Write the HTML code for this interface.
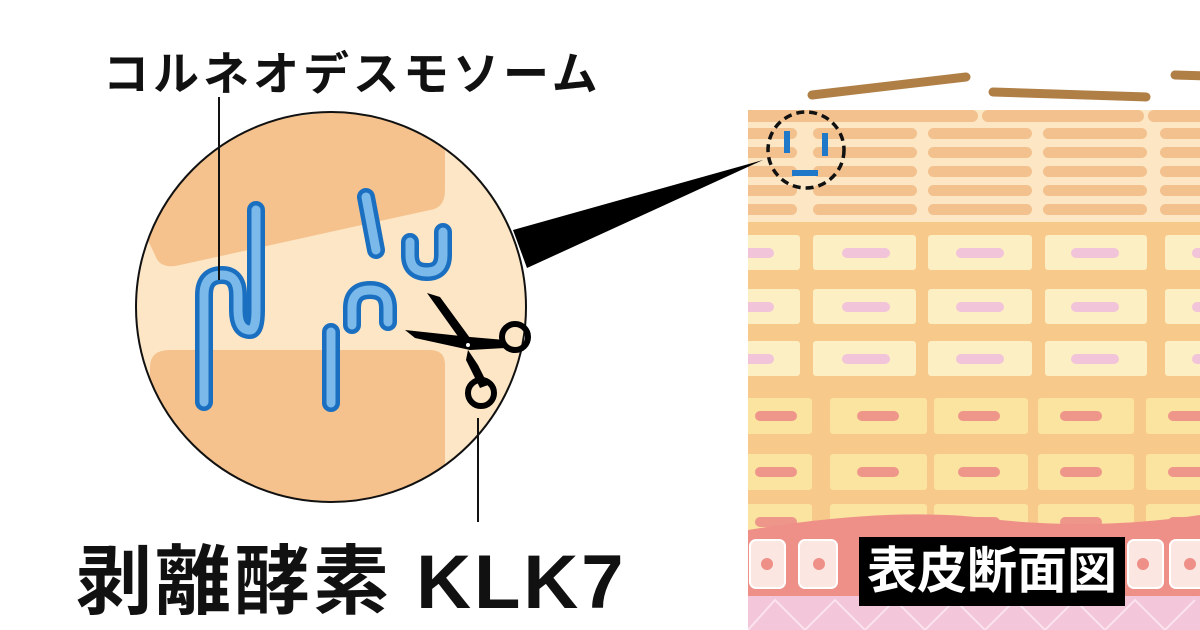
<!DOCTYPE html>
<html><head><meta charset="utf-8"><style>
html,body{margin:0;padding:0;background:#fff;}
body{width:1200px;height:630px;overflow:hidden;position:relative;font-family:"Liberation Sans","Noto Sans CJK JP",sans-serif;}
.t1{position:absolute;left:103px;top:38px;font-size:46px;font-weight:bold;color:#111;letter-spacing:4px;white-space:nowrap;}
.t2{position:absolute;left:76px;top:520px;font-size:76px;font-weight:bold;color:#111;white-space:nowrap;letter-spacing:3px;}
.lab{position:absolute;left:859px;top:537px;width:266px;height:69px;background:#000;color:#fff;font-size:50px;font-weight:bold;line-height:69px;text-align:center;white-space:nowrap;}
</style></head><body>
<svg width="1200" height="630" style="position:absolute;left:0;top:0">
<defs>
<clipPath id="cc"><circle cx="331" cy="307" r="195"/></clipPath>
<clipPath id="ep"><rect x="748" y="0" width="452" height="630"/></clipPath>
</defs>
<g clip-path="url(#ep)">
<rect x="748" y="110" width="452" height="520" fill="#fce6c4"/>
<g fill="#f3c18e">
<rect x="740" y="110" width="238" height="12" rx="6"/><rect x="982" y="110" width="162" height="12" rx="6"/><rect x="1148" y="110" width="60" height="12" rx="6"/>
</g>
<g fill="#f3c18e" id="bars">
<rect x="740" y="128" width="57" height="11" rx="5.5"/><rect x="813" y="128" width="104" height="11" rx="5.5"/><rect x="928" y="128" width="104" height="11" rx="5.5"/><rect x="1043" y="128" width="104" height="11" rx="5.5"/><rect x="1160" y="128" width="50" height="11" rx="5.5"/>
</g>
<use href="#bars" y="19"/><use href="#bars" y="38"/><use href="#bars" y="57"/><use href="#bars" y="76"/>
<rect x="748" y="222" width="452" height="318" fill="#f7c98a"/>
<g id="r1"><g fill="#fdefc4">
<rect x="740" y="235" width="60" height="35" rx="3"/><rect x="813" y="235" width="103" height="35" rx="3"/><rect x="928" y="235" width="104" height="35" rx="3"/><rect x="1045" y="235" width="102" height="35" rx="3"/><rect x="1165" y="235" width="45" height="35" rx="3"/></g>
<g fill="#f1c4d9"><rect x="740" y="248" width="34" height="10" rx="5"/><rect x="842" y="248" width="48" height="10" rx="5"/><rect x="956" y="248" width="48" height="10" rx="5"/><rect x="1071" y="248" width="48" height="10" rx="5"/><rect x="1192" y="248" width="20" height="10" rx="5"/></g></g>
<use href="#r1" y="54"/><use href="#r1" y="106"/>
<g id="r2"><g fill="#fbe3a0">
<rect x="740" y="398" width="72" height="36" rx="3"/><rect x="830" y="398" width="97" height="36" rx="3"/><rect x="934" y="398" width="94" height="36" rx="3"/><rect x="1038" y="398" width="96" height="36" rx="3"/><rect x="1146" y="398" width="64" height="36" rx="3"/></g>
<g fill="#ee968a"><rect x="755" y="411" width="42" height="10" rx="5"/><rect x="857" y="411" width="42" height="10" rx="5"/><rect x="958" y="411" width="42" height="10" rx="5"/><rect x="1060" y="411" width="42" height="10" rx="5"/><rect x="1168" y="411" width="42" height="10" rx="5"/></g></g>
<use href="#r2" y="56"/><use href="#r2" y="106"/>
<path d="M748 530 Q900 505 1000 520 Q1100 530 1200 515 L1200 630 L748 630 Z" fill="#ee9088"/>
<g fill="#fbe6e2" stroke="#fff" stroke-width="2">
<rect x="750" y="540" width="35" height="48" rx="6"/><rect x="799" y="540" width="38" height="48" rx="6"/><rect x="1128" y="540" width="35" height="48" rx="6"/><rect x="1170" y="540" width="40" height="48" rx="6"/>
</g>
<g fill="#ee9088"><circle cx="767" cy="564" r="6"/><circle cx="819" cy="564" r="6"/><circle cx="1143" cy="564" r="6"/><circle cx="1190" cy="564" r="6"/></g>
<rect x="748" y="596" width="452" height="34" fill="#f3c6da"/>
<path d="M748 630 L775 600 L805 630 L835 600 L865 630 L895 600 L925 630 L955 600 L985 630 L1015 600 L1045 630 L1075 600 L1105 630 L1135 600 L1165 630 L1195 600" stroke="#fbe3ee" stroke-width="2" fill="none"/>
</g>
<g stroke="#b07f45" stroke-width="9" stroke-linecap="round">
<line x1="812" y1="95" x2="966" y2="77"/><line x1="993" y1="92" x2="1146" y2="97"/><line x1="1175" y1="75" x2="1210" y2="76"/>
</g>
<circle cx="806" cy="150" r="38" fill="none" stroke="#111" stroke-width="3.5" stroke-dasharray="8 5"/>
<g fill="#1f78c8"><rect x="784" y="131" width="6" height="22"/><rect x="822" y="133" width="6" height="23"/><rect x="792" y="170" width="26" height="6"/></g>
<polygon points="513,230 527,268 763,160" fill="#000"/>
<circle cx="331" cy="307" r="195" fill="#fde6c5"/>
<g clip-path="url(#cc)" fill="#f5c28d">
<path d="M100 140 L430 100 Q445 100 445 115 L445 190 Q445 208 430 210 L180 265 Q160 270 155 255 Z"/>
<path d="M150 367 Q150 350 170 350 L430 350 Q445 350 445 365 L445 520 L150 520 Z"/>
</g>
<circle cx="331" cy="307" r="195" fill="none" stroke="#111" stroke-width="2"/>
<g fill="none" stroke-linecap="round">
<g stroke="#1a6fc0" stroke-width="18">
<path d="M204 402 V295 Q204 275 222 275 Q238 275 238 295 V310 Q238 330 250 330 Q256 330 256 310 V210"/>
<path d="M366 197 L376 250"/><path d="M410 242 V255 Q410 272 427 272 Q443 272 443 255 V232"/>
<path d="M352 325 V308 Q352 290 370 290 Q388 290 388 308 V322"/><path d="M331 332 V403"/>
</g>
<g stroke="#7ab9ea" stroke-width="9">
<path d="M204 402 V295 Q204 275 222 275 Q238 275 238 295 V310 Q238 330 250 330 Q256 330 256 310 V210"/>
<path d="M366 197 L376 250"/><path d="M410 242 V255 Q410 272 427 272 Q443 272 443 255 V232"/>
<path d="M352 325 V308 Q352 290 370 290 Q388 290 388 308 V322"/><path d="M331 332 V403"/>
</g>
</g>
<path d="M427 293 L440 297 L470 338 L462 342 Z" fill="#000"/>
<path d="M405 330 L470 337 L505 340 L505 348 L470 350 L415 338 Z" fill="#000"/>
<path d="M468 350 L478 365 L488 385 L480 388 L466 360 Z" fill="#000"/>
<circle cx="515" cy="337" r="13" fill="none" stroke="#000" stroke-width="6"/>
<circle cx="481" cy="393" r="13" fill="none" stroke="#000" stroke-width="6"/>
<circle cx="468" cy="345" r="2" fill="#fff"/>
<line x1="219" y1="97" x2="219" y2="280" stroke="#111" stroke-width="2"/>
<line x1="478" y1="418" x2="478" y2="522" stroke="#111" stroke-width="2"/>
</svg>
<div class="t1">コルネオデスモソーム</div>
<div class="t2">剥離酵素 KLK7</div>
<div class="lab">表皮断面図</div>
</body></html>
